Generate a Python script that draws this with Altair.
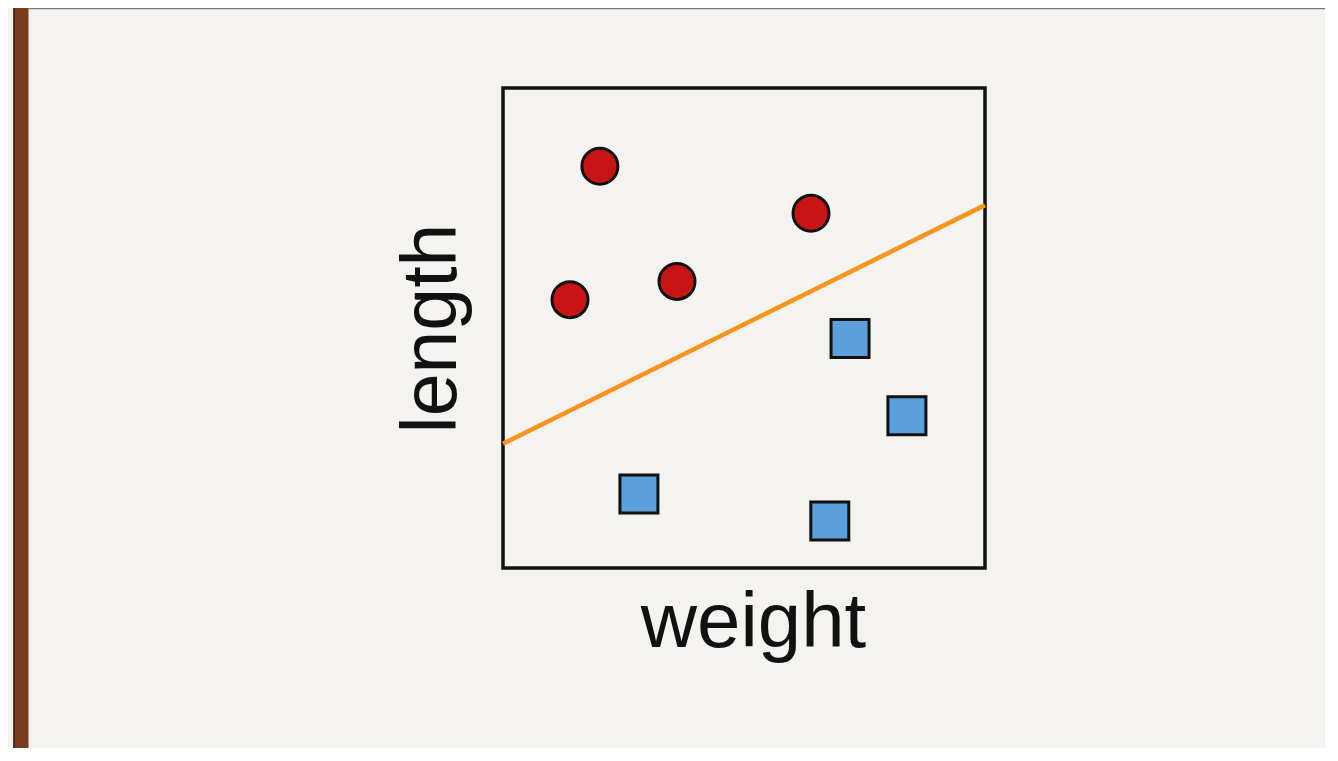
import altair as alt
import pandas as pd

# Data values (in a 0-10 unit space on both axes)
circle_x = [2.01, 1.39, 3.61, 6.39]
circle_y = [8.37, 5.59, 5.97, 7.39]
square_x = [7.20, 8.38, 2.82, 6.78]
square_y = [4.78, 3.17, 1.54, 0.98]
line_x = [0, 10]
line_y = [2.59, 7.56]

W, H = 482, 480
PAD = {"left": 495, "top": 80, "right": 340, "bottom": 180}

xs = alt.Scale(domain=[0, 10], nice=False, zero=False)
ys = alt.Scale(domain=[0, 10], nice=False, zero=False)

FONT = "Liberation Sans"

x_axis = alt.Axis(
    title="weight", labels=False, ticks=False, domain=False, grid=False,
    titleFontSize=78, titleFont=FONT, titleFontWeight="normal", titleColor="#111111",
    titleX=250, titleY=78, titleBaseline="alphabetic", titleAlign="center",
)
y_axis = alt.Axis(
    title="length", labels=False, ticks=False, domain=False, grid=False,
    titleFontSize=77, titleFont=FONT, titleFontWeight="normal", titleColor="#111111",
    titleAngle=270, titleX=-48, titleY=240, titleBaseline="alphabetic", titleAlign="center",
)

circles = pd.DataFrame({"x": circle_x, "y": circle_y})
squares = pd.DataFrame({"x": square_x, "y": square_y})
line_df = pd.DataFrame({"x": line_x, "y": line_y})

line = alt.Chart(line_df).mark_line(color="#f7941d", strokeWidth=4.5).encode(
    x=alt.X("x:Q", scale=xs, axis=x_axis),
    y=alt.Y("y:Q", scale=ys, axis=y_axis),
)

circ = alt.Chart(circles).mark_point(
    shape="circle", filled=True, fill="#c81414", stroke="#111111",
    strokeWidth=3, size=1296, opacity=1,
).encode(x=alt.X("x:Q", scale=xs), y=alt.Y("y:Q", scale=ys))

sq = alt.Chart(squares).mark_point(
    shape="square", filled=True, fill="#5b9fdb", stroke="#111111",
    strokeWidth=3, size=1444, opacity=1,
).encode(x=alt.X("x:Q", scale=xs), y=alt.Y("y:Q", scale=ys))

decor_df = pd.DataFrame({"a": [0]})
brown = alt.Chart(decor_df).mark_rule(color="#7a3a1d", strokeWidth=15).encode(
    x=alt.value(-482), y=alt.value(-80), y2=alt.value(H + PAD["bottom"])
)
brown_edge = alt.Chart(decor_df).mark_rule(color="#3a1a0a", strokeWidth=1.5).encode(
    x=alt.value(-489), y=alt.value(-80), y2=alt.value(H + PAD["bottom"])
)
top_line = alt.Chart(decor_df).mark_rule(color="#777777", strokeWidth=1.5).encode(
    x=alt.value(-475), x2=alt.value(W + PAD["right"]), y=alt.value(-79.5)
)

chart = alt.layer(brown, brown_edge, top_line, line, circ, sq).properties(
    width=W, height=H,
    autosize=alt.AutoSizeParams(type="none"),
    padding=PAD,
    background="#f4f3f0",
).configure_view(stroke="#111111", strokeWidth=3.5)

chart.save("out.html", embed_options={"renderer": "svg", "actions": False})
